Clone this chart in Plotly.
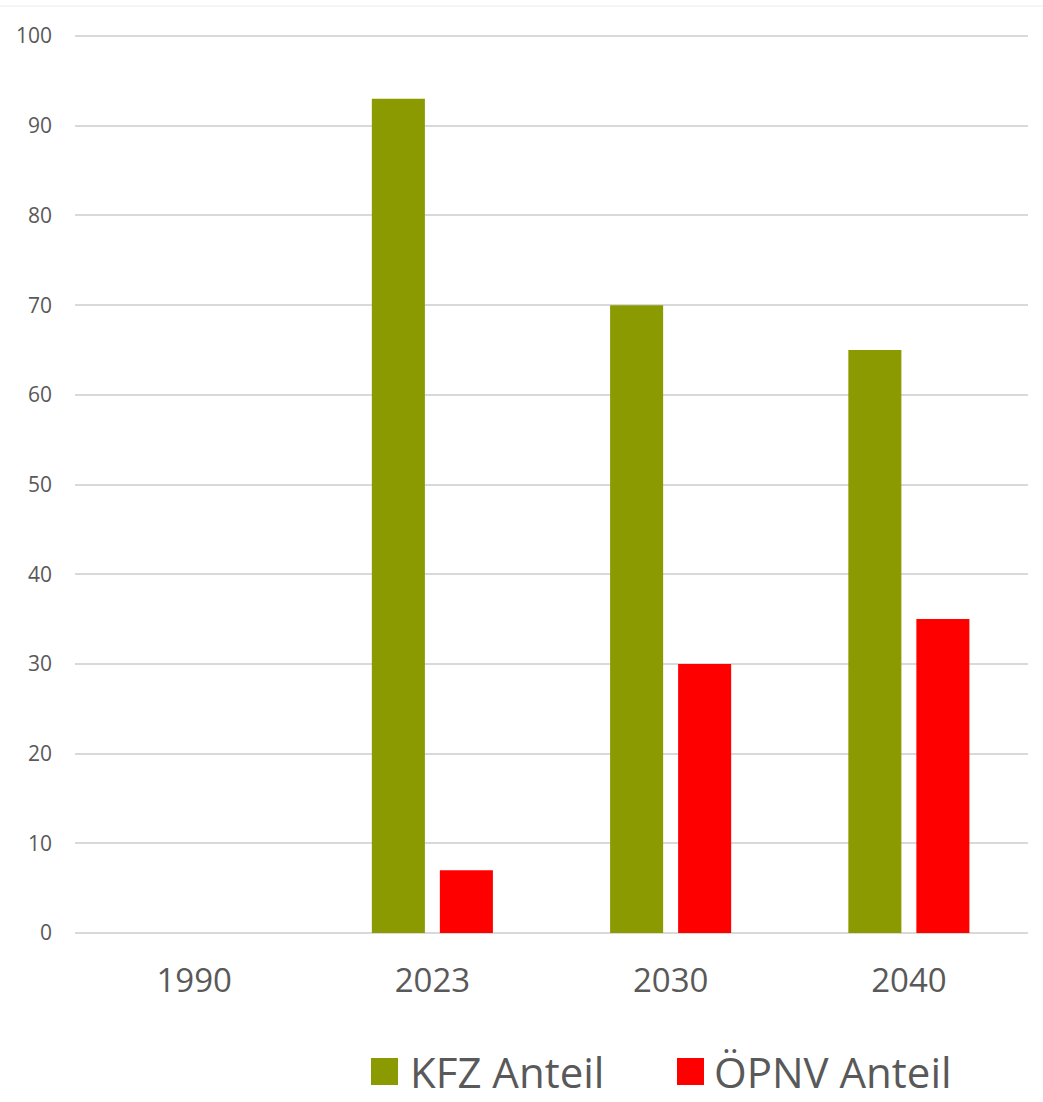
import plotly.graph_objects as go

categories = ["1990", "2023", "2030", "2040"]
kfz_name = "KFZ Anteil"
oepnv_name = "ÖPNV Anteil"
kfz_values = [None, 93, 70, 65]
oepnv_values = [None, 7, 30, 35]
y_ticks = [0, 10, 20, 30, 40, 50, 60, 70, 80, 90, 100]

KFZ_COLOR = "#8B9A00"
OEPNV_COLOR = "#FF0000"
TEXT_COLOR = "#595959"
GRID_COLOR = "#D9D9D9"
FONT = "Open Sans"

fig = go.Figure()
fig.add_trace(go.Bar(x=categories, y=kfz_values, name=kfz_name,
                     marker=dict(color=KFZ_COLOR, line=dict(width=0)),
                     showlegend=False))
fig.add_trace(go.Bar(x=categories, y=oepnv_values, name=oepnv_name,
                     marker=dict(color=OEPNV_COLOR, line=dict(width=0)),
                     showlegend=False))

W, H = 1043, 1102
L, T = 75, 35
R = W - 1028
B = H - 933
pw, ph = W - L - R, H - T - B

def px_x(x):
    return (x - L) / pw

def px_y(y):
    return (H - B - y) / ph

shapes = [
    dict(type="line", xref="paper", yref="paper",
         x0=px_x(0), x1=px_x(1043), y0=px_y(6), y1=px_y(6),
         line=dict(color="#EAEAEA", width=1)),
    dict(type="rect", xref="paper", yref="paper",
         x0=px_x(371), x1=px_x(398), y0=px_y(1085), y1=px_y(1058),
         fillcolor=KFZ_COLOR, line=dict(width=0)),
    dict(type="rect", xref="paper", yref="paper",
         x0=px_x(677), x1=px_x(704), y0=px_y(1085), y1=px_y(1058),
         fillcolor=OEPNV_COLOR, line=dict(width=0)),
]
annotations = [
    dict(text=kfz_name, xref="paper", yref="paper", x=px_x(408), y=px_y(1071),
         xanchor="left", yanchor="middle", showarrow=False,
         font=dict(family=FONT, size=42, color=TEXT_COLOR)),
    dict(text=oepnv_name, xref="paper", yref="paper", x=px_x(712), y=px_y(1071),
         xanchor="left", yanchor="middle", showarrow=False,
         font=dict(family=FONT, size=42, color=TEXT_COLOR)),
]

fig.update_layout(
    width=W, height=H,
    margin=dict(l=L, r=R, t=T, b=B, autoexpand=False),
    paper_bgcolor="white", plot_bgcolor="white",
    barmode="group", bargap=0.429, bargroupgap=0.22,
    font=dict(family=FONT, color=TEXT_COLOR),
    shapes=shapes, annotations=annotations,
    xaxis=dict(type="category", categoryorder="array", categoryarray=categories,
               tickfont=dict(size=33, color=TEXT_COLOR), showgrid=False,
               showline=False, ticks="", ticklabelstandoff=25),
    yaxis=dict(range=[0, 100.12], tickvals=y_ticks, showgrid=True,
               gridcolor=GRID_COLOR, gridwidth=1.5, zeroline=True,
               zerolinecolor=GRID_COLOR, zerolinewidth=1.5, showline=False,
               tickfont=dict(size=21, color=TEXT_COLOR), ticks="",
               ticklabelstandoff=22),
)

fig.write_html(
    "out.html",
    config={"displayModeBar": False},
    post_script="document.body.style.margin='0';document.body.style.overflow='hidden';",
)
